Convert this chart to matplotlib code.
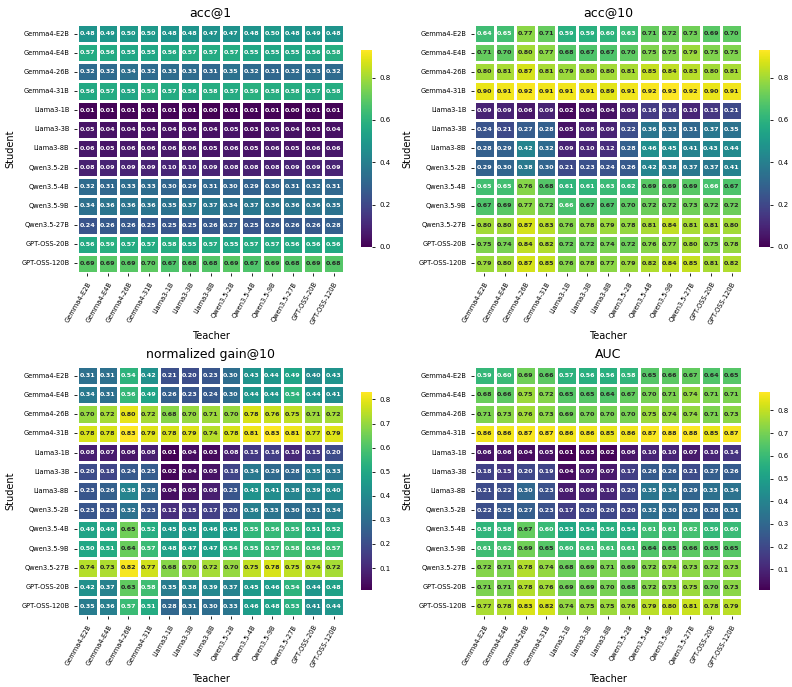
import numpy as np
import matplotlib
matplotlib.use("Agg")
import matplotlib.pyplot as plt
import seaborn as sns

models = ["Gemma4-E2B", "Gemma4-E4B", "Gemma4-26B", "Gemma4-31B",
          "Llama3-1B", "Llama3-3B", "Llama3-8B",
          "Qwen3.5-2B", "Qwen3.5-4B", "Qwen3.5-9B", "Qwen3.5-27B",
          "GPT-OSS-20B", "GPT-OSS-120B"]

acc1 = [
    [0.48, 0.49, 0.50, 0.50, 0.48, 0.48, 0.47, 0.47, 0.48, 0.50, 0.48, 0.49, 0.48],
    [0.57, 0.56, 0.55, 0.55, 0.56, 0.57, 0.57, 0.57, 0.55, 0.55, 0.55, 0.56, 0.58],
    [0.32, 0.32, 0.34, 0.32, 0.33, 0.33, 0.31, 0.35, 0.32, 0.31, 0.32, 0.33, 0.32],
    [0.56, 0.57, 0.55, 0.59, 0.57, 0.56, 0.58, 0.57, 0.59, 0.58, 0.58, 0.57, 0.58],
    [0.01, 0.01, 0.01, 0.01, 0.01, 0.01, 0.00, 0.01, 0.01, 0.01, 0.00, 0.01, 0.01],
    [0.05, 0.04, 0.04, 0.04, 0.04, 0.04, 0.04, 0.05, 0.03, 0.05, 0.04, 0.03, 0.04],
    [0.06, 0.05, 0.06, 0.06, 0.06, 0.06, 0.05, 0.06, 0.05, 0.06, 0.05, 0.06, 0.06],
    [0.08, 0.09, 0.09, 0.09, 0.10, 0.10, 0.09, 0.08, 0.08, 0.08, 0.09, 0.09, 0.09],
    [0.32, 0.31, 0.33, 0.33, 0.30, 0.29, 0.31, 0.30, 0.29, 0.30, 0.31, 0.32, 0.31],
    [0.34, 0.36, 0.36, 0.36, 0.35, 0.37, 0.37, 0.34, 0.37, 0.36, 0.36, 0.36, 0.35],
    [0.24, 0.26, 0.26, 0.25, 0.25, 0.25, 0.26, 0.27, 0.25, 0.26, 0.26, 0.26, 0.28],
    [0.56, 0.59, 0.57, 0.57, 0.58, 0.55, 0.57, 0.55, 0.57, 0.57, 0.56, 0.56, 0.56],
    [0.69, 0.69, 0.69, 0.70, 0.67, 0.68, 0.68, 0.69, 0.67, 0.69, 0.68, 0.69, 0.68],
]

acc10 = [
    [0.64, 0.65, 0.77, 0.71, 0.59, 0.59, 0.60, 0.63, 0.71, 0.72, 0.73, 0.69, 0.70],
    [0.71, 0.70, 0.80, 0.77, 0.68, 0.67, 0.67, 0.70, 0.75, 0.75, 0.79, 0.75, 0.75],
    [0.80, 0.81, 0.87, 0.81, 0.79, 0.80, 0.80, 0.81, 0.85, 0.84, 0.83, 0.80, 0.81],
    [0.90, 0.91, 0.92, 0.91, 0.91, 0.91, 0.89, 0.91, 0.92, 0.93, 0.92, 0.90, 0.91],
    [0.09, 0.09, 0.06, 0.09, 0.02, 0.04, 0.04, 0.09, 0.16, 0.16, 0.10, 0.15, 0.21],
    [0.24, 0.21, 0.27, 0.28, 0.05, 0.08, 0.09, 0.22, 0.36, 0.33, 0.31, 0.37, 0.35],
    [0.28, 0.29, 0.42, 0.32, 0.09, 0.10, 0.12, 0.28, 0.46, 0.45, 0.41, 0.43, 0.44],
    [0.29, 0.30, 0.38, 0.30, 0.21, 0.23, 0.24, 0.26, 0.42, 0.38, 0.37, 0.37, 0.41],
    [0.65, 0.65, 0.76, 0.68, 0.61, 0.61, 0.63, 0.62, 0.69, 0.69, 0.69, 0.66, 0.67],
    [0.67, 0.69, 0.77, 0.72, 0.66, 0.67, 0.67, 0.70, 0.72, 0.72, 0.73, 0.72, 0.72],
    [0.80, 0.80, 0.87, 0.83, 0.76, 0.78, 0.79, 0.78, 0.81, 0.84, 0.81, 0.81, 0.80],
    [0.75, 0.74, 0.84, 0.82, 0.72, 0.72, 0.74, 0.72, 0.76, 0.77, 0.80, 0.75, 0.78],
    [0.79, 0.80, 0.87, 0.85, 0.76, 0.78, 0.77, 0.79, 0.82, 0.84, 0.85, 0.81, 0.82],
]

gain10 = [
    [0.31, 0.31, 0.54, 0.42, 0.21, 0.20, 0.23, 0.30, 0.43, 0.44, 0.49, 0.40, 0.43],
    [0.34, 0.31, 0.56, 0.49, 0.26, 0.23, 0.24, 0.30, 0.44, 0.44, 0.54, 0.44, 0.41],
    [0.70, 0.72, 0.80, 0.72, 0.68, 0.70, 0.71, 0.70, 0.78, 0.76, 0.75, 0.71, 0.72],
    [0.78, 0.78, 0.83, 0.79, 0.78, 0.79, 0.74, 0.78, 0.81, 0.83, 0.81, 0.77, 0.79],
    [0.08, 0.07, 0.06, 0.08, 0.01, 0.04, 0.03, 0.08, 0.15, 0.16, 0.10, 0.15, 0.20],
    [0.20, 0.18, 0.24, 0.25, 0.02, 0.04, 0.05, 0.18, 0.34, 0.29, 0.28, 0.35, 0.33],
    [0.23, 0.26, 0.38, 0.28, 0.04, 0.05, 0.08, 0.23, 0.43, 0.41, 0.38, 0.39, 0.40],
    [0.23, 0.23, 0.32, 0.23, 0.12, 0.15, 0.17, 0.20, 0.36, 0.33, 0.30, 0.31, 0.34],
    [0.49, 0.49, 0.65, 0.52, 0.45, 0.45, 0.46, 0.45, 0.55, 0.56, 0.55, 0.51, 0.52],
    [0.50, 0.51, 0.64, 0.57, 0.48, 0.47, 0.47, 0.54, 0.55, 0.57, 0.58, 0.56, 0.57],
    [0.74, 0.73, 0.82, 0.77, 0.68, 0.70, 0.72, 0.70, 0.75, 0.78, 0.75, 0.74, 0.72],
    [0.42, 0.37, 0.63, 0.58, 0.35, 0.38, 0.39, 0.37, 0.45, 0.46, 0.54, 0.44, 0.48],
    [0.35, 0.36, 0.57, 0.51, 0.28, 0.31, 0.30, 0.33, 0.46, 0.48, 0.53, 0.41, 0.44],
]

auc = [
    [0.59, 0.60, 0.69, 0.66, 0.57, 0.56, 0.56, 0.58, 0.65, 0.66, 0.67, 0.64, 0.65],
    [0.68, 0.66, 0.75, 0.72, 0.65, 0.65, 0.64, 0.67, 0.70, 0.71, 0.74, 0.71, 0.71],
    [0.71, 0.73, 0.76, 0.73, 0.69, 0.70, 0.70, 0.70, 0.75, 0.74, 0.74, 0.71, 0.73],
    [0.86, 0.86, 0.87, 0.87, 0.86, 0.86, 0.85, 0.86, 0.87, 0.88, 0.88, 0.85, 0.87],
    [0.06, 0.06, 0.04, 0.05, 0.01, 0.03, 0.02, 0.06, 0.10, 0.10, 0.07, 0.10, 0.14],
    [0.18, 0.15, 0.20, 0.19, 0.04, 0.07, 0.07, 0.17, 0.26, 0.26, 0.21, 0.27, 0.26],
    [0.21, 0.22, 0.30, 0.23, 0.08, 0.09, 0.10, 0.20, 0.35, 0.34, 0.29, 0.33, 0.34],
    [0.22, 0.25, 0.27, 0.23, 0.17, 0.20, 0.20, 0.20, 0.32, 0.30, 0.29, 0.28, 0.31],
    [0.58, 0.58, 0.67, 0.60, 0.53, 0.54, 0.56, 0.54, 0.61, 0.61, 0.62, 0.59, 0.60],
    [0.61, 0.62, 0.69, 0.65, 0.60, 0.61, 0.61, 0.61, 0.64, 0.65, 0.66, 0.65, 0.65],
    [0.72, 0.71, 0.78, 0.74, 0.68, 0.69, 0.71, 0.69, 0.72, 0.74, 0.73, 0.72, 0.73],
    [0.71, 0.71, 0.78, 0.76, 0.69, 0.69, 0.70, 0.68, 0.72, 0.73, 0.75, 0.70, 0.73],
    [0.77, 0.78, 0.83, 0.82, 0.74, 0.75, 0.75, 0.76, 0.79, 0.80, 0.81, 0.78, 0.79],
]

acc_max = max(np.max(acc1), np.max(acc10))

panels = [
    ("acc@1", acc1, 0.0, acc_max),
    ("acc@10", acc10, 0.0, acc_max),
    ("normalized gain@10", gain10, None, None),
    ("AUC", auc, None, None),
]

W, H = 792, 687
fig = plt.figure(figsize=(W / 100, H / 100), dpi=100)

# pixel boxes (left, top, width, height) for heatmaps
boxes = [(77, 24, 267, 249), (474, 24, 268, 249),
         (77, 366, 267, 250), (474, 366, 268, 250)]

for (title, vals, vmin, vmax), (x, y, w, h) in zip(panels, boxes):
    ax = fig.add_axes([x / W, 1 - (y + h) / H, w / W, h / H])
    ch = h * 0.79
    cax = fig.add_axes([(x + w + 17) / W, 1 - (y + h / 2 + ch / 2) / H, 11 / W, ch / H])
    sns.heatmap(np.array(vals), ax=ax, cbar_ax=cax, cmap="viridis",
                vmin=vmin, vmax=vmax,
                annot=True, fmt=".2f",
                annot_kws={"size": 4.6, "weight": "bold"},
                linewidths=0.8, linecolor="white",
                xticklabels=models, yticklabels=models)
    ax.set_title(title, fontsize=9)
    ax.set_xlabel("Teacher", fontsize=7)
    ax.set_ylabel("Student", fontsize=7)
    ax.tick_params(axis="both", labelsize=4.8, length=2, width=0.6)
    plt.setp(ax.get_xticklabels(), rotation=60, ha="right", rotation_mode="anchor")
    plt.setp(ax.get_yticklabels(), rotation=0)
    cax.tick_params(labelsize=5, length=2, width=0.6)
    for s in cax.spines.values():
        s.set_visible(False)

plt.savefig("out.png", dpi=100)
